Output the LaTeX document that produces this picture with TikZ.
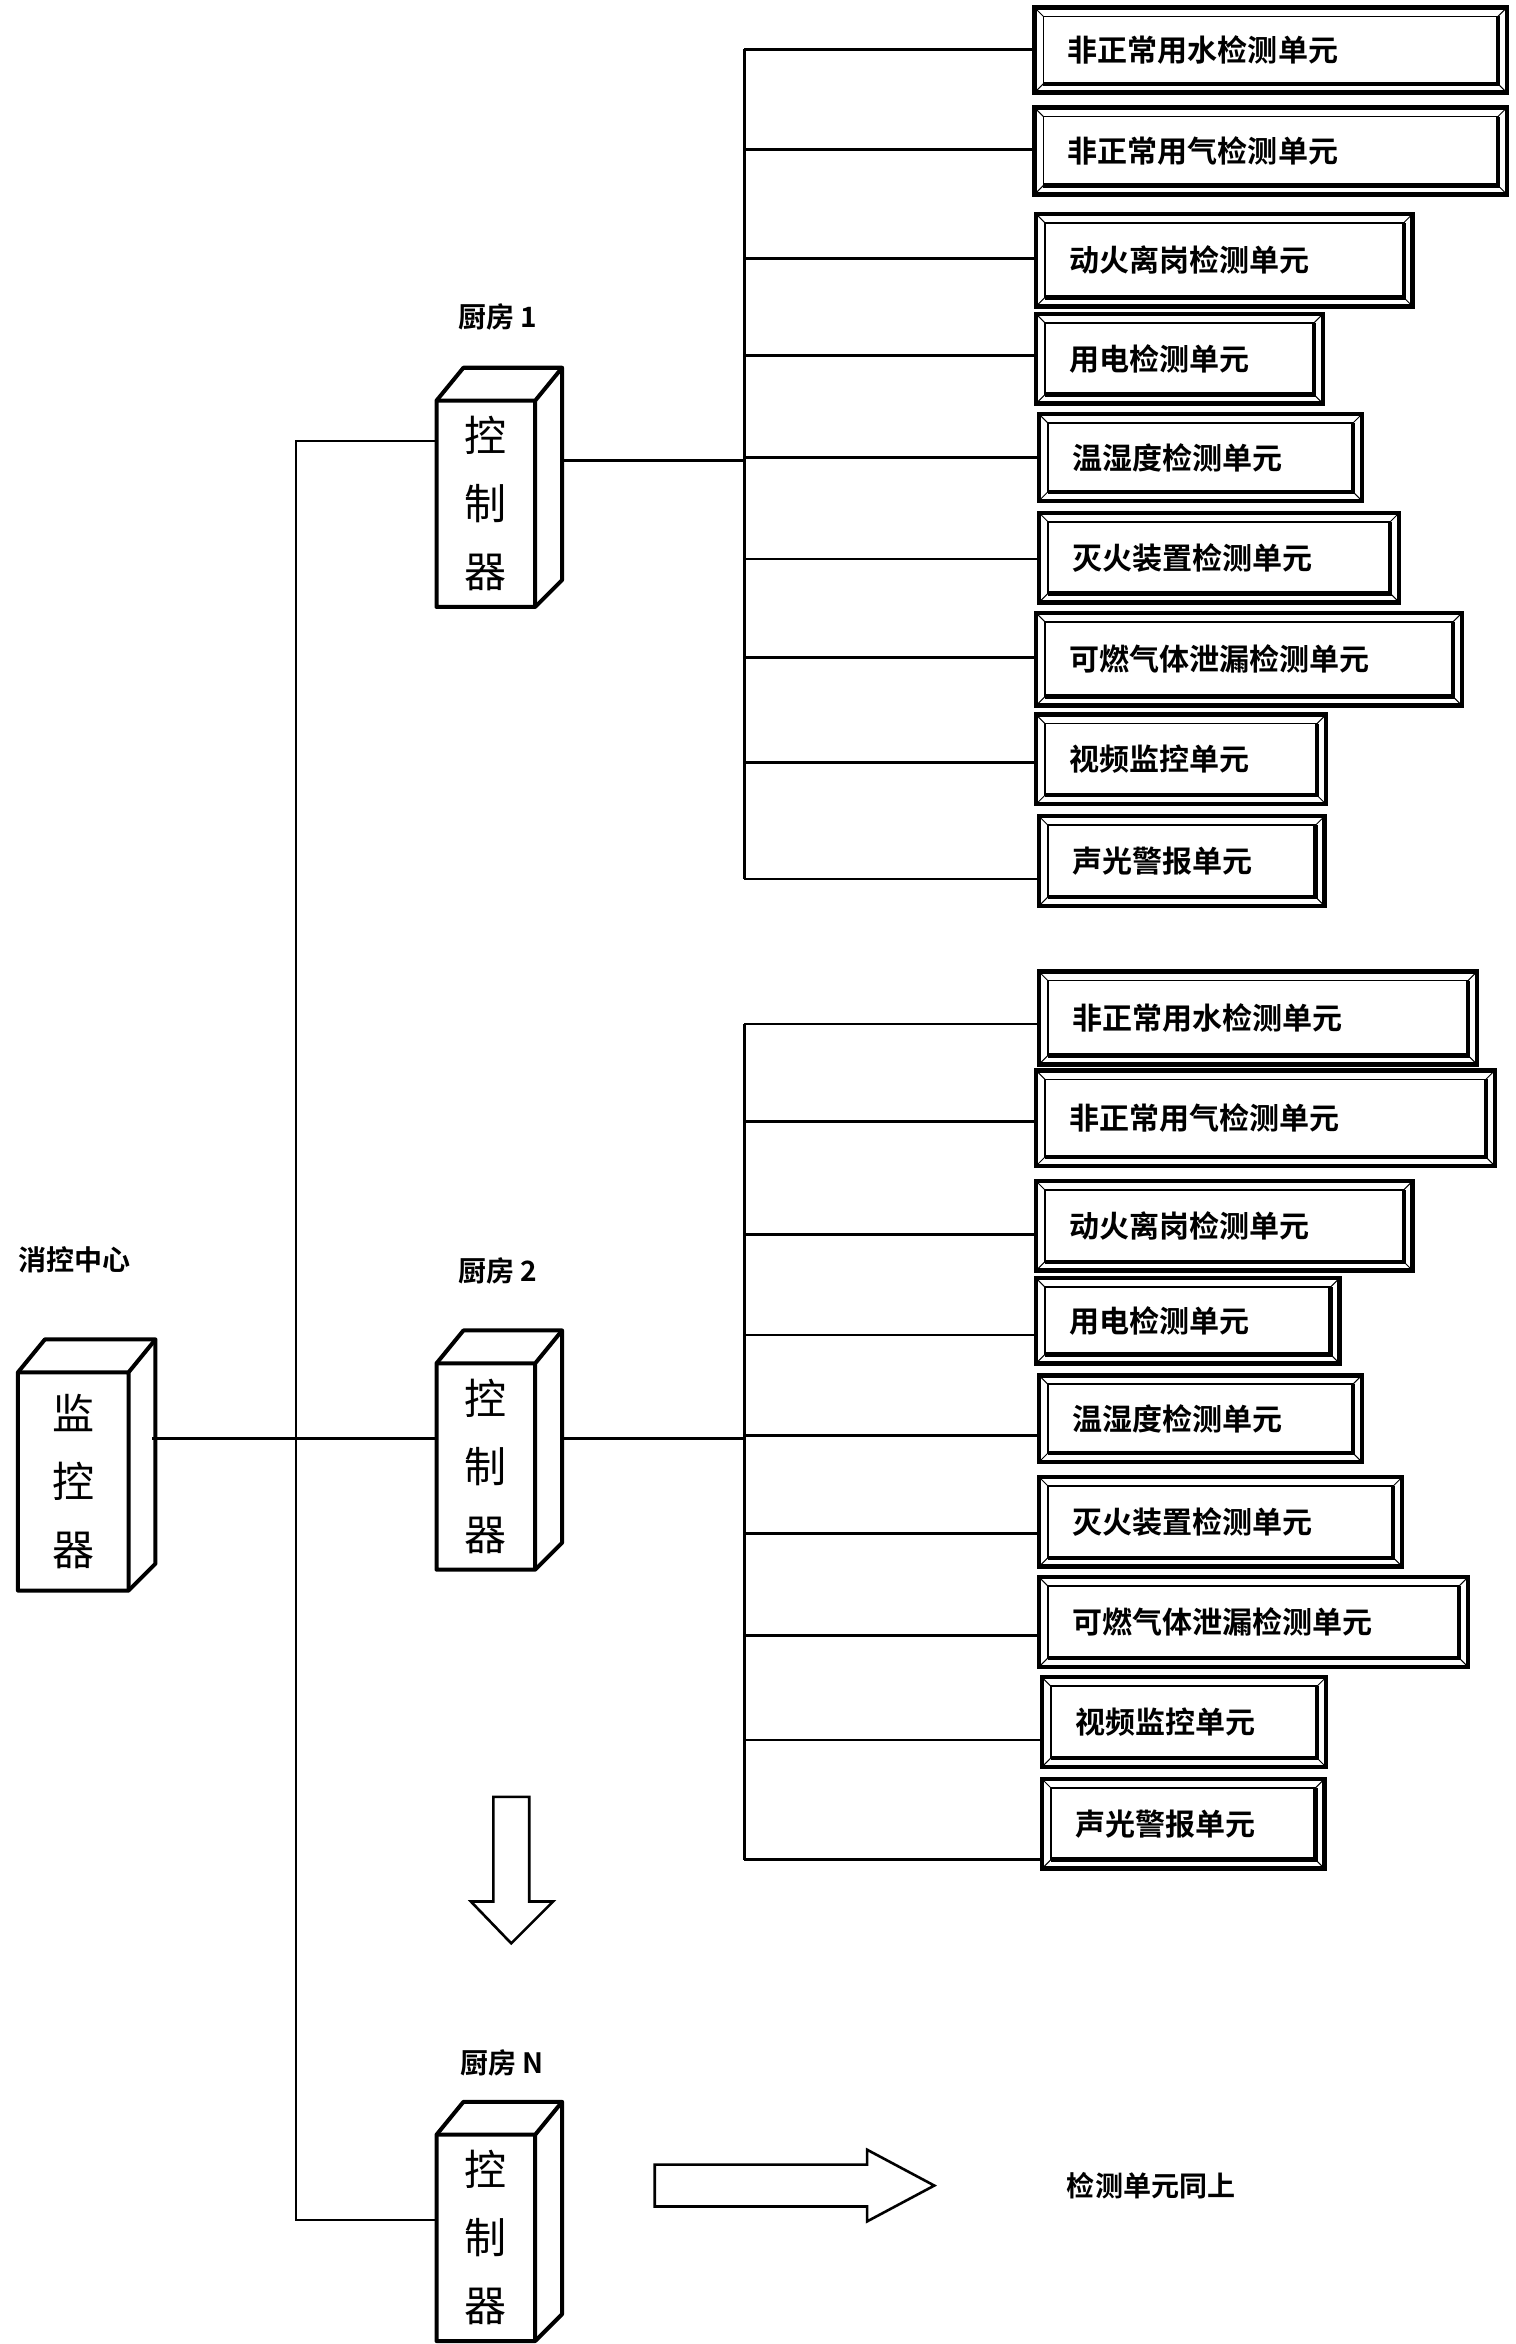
\documentclass[tikz,border=0pt]{standalone}
\usepackage{fontspec}
\newfontfamily\cjk{Noto Sans CJK SC}[BoldFont={Noto Sans CJK SC Bold}]
\begin{document}
\begin{tikzpicture}[x=0.7466pt,y=-0.7466pt,
  ln/.style={line width=1.4pt},
  lbl/.style={font=\cjk\bfseries\fontsize{14}{16}\selectfont,inner sep=0pt},
  utxt/.style={font=\cjk\bfseries\fontsize{15}{17}\selectfont,inner sep=0pt,anchor=west},
  ctxt/.style={font=\cjk\fontsize{21}{30}\selectfont,align=center,inner sep=0pt},
  blk/.style={line width=1.3pt,fill=white}]
\useasboundingbox (0,0) rectangle (1014,1568);
% unit box macro: name, x1,y1,x2,y2,text
\newcommand\ubox[6]{%
  \draw[line width=2.2pt] (#2,#3) rectangle (#4,#5);
  \draw[line width=0.8pt] (#2+6,#3+6) rectangle (#4-6,#5-6);
  \draw[line width=0.5pt] (#2,#3)--(#2+6,#3+6) (#4,#3)--(#4-6,#3+6) (#2,#5)--(#2+6,#5-6) (#4,#5)--(#4-6,#5-6);
  \draw[line width=2.2pt] (#4-6,#3+6)--(#4-6,#5-6)--(#2+6,#5-6);
  \node[utxt] (#1) at (#2+22,{(#3+#5)/2}) {#6};
  \coordinate (#1w) at (#2,{(#3+#5)/2});}
% 3D box macro: name, x1,y1(front top), x2,y2, text
\newcommand\tbox[6]{%
  \draw[line width=2pt,line join=round,fill=white] (#2,#3)--(#2+18,#3-22)--(#4+18,#3-22)--(#4+18,#5-18)--(#4,#5)--(#2,#5)--cycle;
  \draw[line width=2pt] (#2,#3)--(#4,#3)--(#4+18,#3-22) (#4,#3)--(#4,#5);
  \node[ctxt] (#1) at ({(#2+#4)/2},{(#3+#5)/2}) {#6};
  \coordinate (#1r) at (#4+18,{(#3+#5)/2-10});
  \coordinate (#1l) at (#2,{(#3+#5)/2-10});}
% labels
\node[lbl] (l0) at (50,843) {消控中心};
\node[lbl] (l1) at (333,212) {厨房 1};
\node[lbl] (l2) at (333,850) {厨房 2};
\node[lbl] (l3) at (336,1380) {厨房 N};
% boxes
\tbox{mon}{12}{918}{86}{1064}{监\\[4pt]控\\[4pt]器}
\tbox{c1}{292}{268}{358}{406}{控\\[4pt]制\\[4pt]器}
\tbox{c2}{292}{912}{358}{1050}{控\\[4pt]制\\[4pt]器}
\tbox{c3}{292}{1428}{358}{1566}{控\\[4pt]制\\[4pt]器}
% main bus
\coordinate (b1) at (198,295); \coordinate (b3) at (198,1485);
\draw[ln] (c1l |- b1) -- (b1) -- (b3) -- (c3l |- b3);
\draw[ln] (102,962) coordinate (mr) -- (292,962) coordinate (c2in);
% kitchen 1 units
\ubox{a1}{692}{5}{1008}{62}{非正常用水检测单元}
\ubox{a2}{692}{72}{1008}{130}{非正常用气检测单元}
\ubox{a3}{693}{143}{945}{205}{动火离岗检测单元}
\ubox{a4}{693}{210}{885}{270}{用电检测单元}
\ubox{a5}{695}{277}{911}{335}{温湿度检测单元}
\ubox{a6}{695}{343}{936}{403}{灭火装置检测单元}
\ubox{a7}{693}{410}{978}{472}{可燃气体泄漏检测单元}
\ubox{a8}{693}{478}{887}{538}{视频监控单元}
\ubox{a9}{695}{546}{886}{606}{声光警报单元}
\draw[ln] (498,33)--(498,588);
\draw[ln] (376,308)--(498,308);
\foreach \i/\y in {1/33,2/100,3/173,4/238,5/306,6/374,7/440,8/510,9/588}
  \draw[ln] (498,\y) -- (a\i w |- 0,\y);
% kitchen 2 units
\ubox{b1u}{695}{650}{988}{712}{非正常用水检测单元}
\ubox{b2u}{693}{716}{1000}{780}{非正常用气检测单元}
\ubox{b3u}{693}{790}{945}{850}{动火离岗检测单元}
\ubox{b4u}{693}{855}{896}{912}{用电检测单元}
\ubox{b5u}{695}{920}{911}{978}{温湿度检测单元}
\ubox{b6u}{695}{988}{938}{1048}{灭火装置检测单元}
\ubox{b7u}{695}{1055}{982}{1115}{可燃气体泄漏检测单元}
\ubox{b8u}{697}{1122}{887}{1182}{视频监控单元}
\ubox{b9u}{697}{1190}{886}{1250}{声光警报单元}
\draw[ln] (498,685)--(498,1244);
\draw[ln] (376,962)--(498,962);
\foreach \i/\y in {1/685,2/750,3/826,4/893,5/960,6/1026,7/1094,8/1164,9/1244}
  \draw[ln] (498,\y) -- (b\i uw |- 0,\y);
% arrows
\draw[blk] (330,1202)--(354,1202)--(354,1272)--(370,1272)--(342,1300)--(315,1272)--(330,1272)--cycle;
\draw[blk] (438,1448)--(580,1448)--(580,1438)--(625,1462)--(580,1486)--(580,1476)--(438,1476)--cycle;
\node[lbl] (same) at (770,1462) {检测单元同上};
\end{tikzpicture}
\end{document}
